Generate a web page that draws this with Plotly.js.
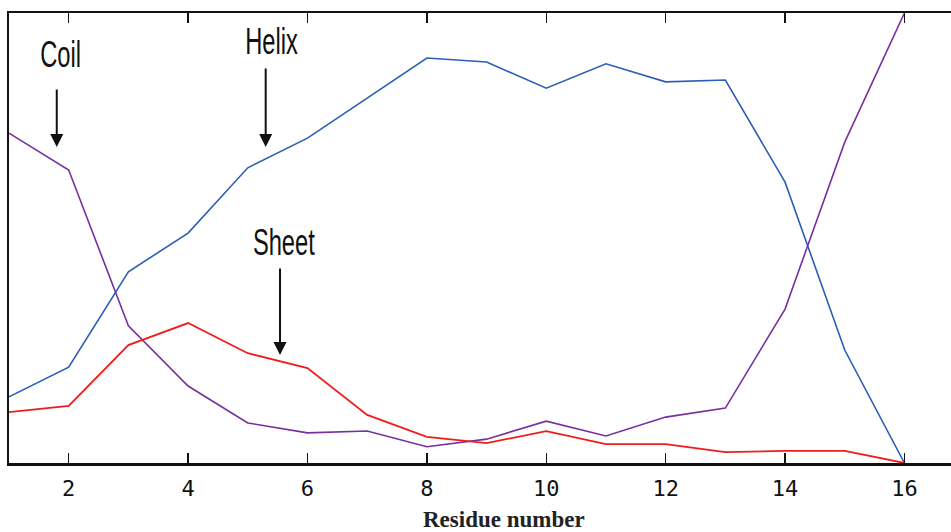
<!DOCTYPE html>
<html>
<head>
<meta charset="utf-8">
<script src="https://cdn.plot.ly/plotly-3.0.1.min.js"></script>
<style>
html,body{margin:0;padding:0;background:#fff;}
#chart{width:951px;height:532px;}
</style>
</head>
<body>
<div id="chart"></div>
<script>
// Residue positions
var residues = [1,2,3,4,5,6,7,8,9,10,11,12,13,14,15,16];
// Secondary structure probabilities (%)
var helix = [14.7,21.3,42.5,51.1,65.6,72.2,81.1,90.0,89.1,83.3,88.7,84.7,85.1,62.4,25.1,0];
var coil  = [73.3,65.1,30.5,17.1,8.9,6.7,7.1,3.6,5.3,9.3,6.0,10.2,12.2,34.2,71.3,100];
var sheet = [11.3,12.7,26.2,31.1,24.4,21.1,10.7,5.8,4.4,7.1,4.2,4.2,2.4,2.7,2.7,0];
var tickVals = [2,4,6,8,10,12,14,16];
var tickText = ['2','4','6','8','10','12','14','16'];
var structureLabels = ['Coil','Helix','Sheet'];

var traces = [
  {x: residues, y: helix, type:'scatter', mode:'lines', name:'Helix',
   line:{color:'#2a5fb5', width:1.6}},
  {x: residues, y: coil, type:'scatter', mode:'lines', name:'Coil',
   line:{color:'#7630a0', width:1.6}},
  {x: residues, y: sheet, type:'scatter', mode:'lines', name:'Sheet',
   line:{color:'#f01c1c', width:1.8}}
];

var labelFont = {family:'"Liberation Sans", Arial, sans-serif', size:32, color:'#111'};

var layout = {
  width:951, height:532,
  margin:{l:9, r:0, t:13, b:69, pad:0},
  paper_bgcolor:'#fff', plot_bgcolor:'#fff',
  showlegend:false,
  xaxis:{
    range:[1, 16.78], tickvals: tickVals, ticktext: tickText,
    ticks:'inside', ticklen:10, tickwidth:1.5, tickcolor:'#111',
    showline:true, linecolor:'#111', linewidth:2.5, mirror:'ticks',
    showgrid:false, zeroline:false, ticklabelstandoff:4,
    tickfont:{family:'"DejaVu Sans Mono", monospace', size:22, color:'#111'}
  },
  yaxis:{
    range:[0,100], showticklabels:false, ticks:'',
    showline:true, linecolor:'#111', linewidth:2.5, mirror:false,
    showgrid:false, zeroline:false
  },
  annotations:[
    {xref:'paper', yref:'paper', x:(504-9)/942, y:(463-519)/450, text:'<b>Residue number</b>',
     showarrow:false, xanchor:'center', yanchor:'middle',
     font:{family:'"Liberation Serif", "Times New Roman", serif', size:23, color:'#222'}},
    {xref:'x', yref:'y', x:1.86, y:90.9, text:structureLabels[0], showarrow:false, font:labelFont, xanchor:'center', yanchor:'middle'},
    {xref:'x', yref:'y', x:5.39, y:93.8, text:structureLabels[1], showarrow:false, font:labelFont, xanchor:'center', yanchor:'middle'},
    {xref:'x', yref:'y', x:5.61, y:49.1, text:structureLabels[2], showarrow:false, font:labelFont, xanchor:'center', yanchor:'middle'},
    {xref:'x', yref:'y', x:1.80, y:70.2, text:'', showarrow:true, ax:0, ay:-59,
     arrowhead:2, arrowsize:1.3, arrowwidth:2, arrowcolor:'#111'},
    {xref:'x', yref:'y', x:5.30, y:70.2, text:'', showarrow:true, ax:0, ay:-80,
     arrowhead:2, arrowsize:1.3, arrowwidth:2, arrowcolor:'#111'},
    {xref:'x', yref:'y', x:5.54, y:24.0, text:'', showarrow:true, ax:0, ay:-88,
     arrowhead:2, arrowsize:1.3, arrowwidth:2, arrowcolor:'#111'}
  ]
};

Plotly.newPlot('chart', traces, layout, {displayModeBar:false, staticPlot:true}).then(function(){
  // condense the structure labels (narrow, tall lettering as in the original figure)
  document.querySelectorAll('text.annotation-text').forEach(function(t){
    if (structureLabels.indexOf(t.textContent) >= 0) {
      var b = t.getBBox();
      var cx = b.x + b.width/2, cy = b.y + b.height/2;
      var prev = t.getAttribute('transform') || '';
      t.setAttribute('transform', prev + ' translate(' + cx + ',' + cy + ') scale(0.74,1.15) translate(' + (-cx) + ',' + (-cy) + ')');
    }
  });
});
</script>
</body>
</html>
